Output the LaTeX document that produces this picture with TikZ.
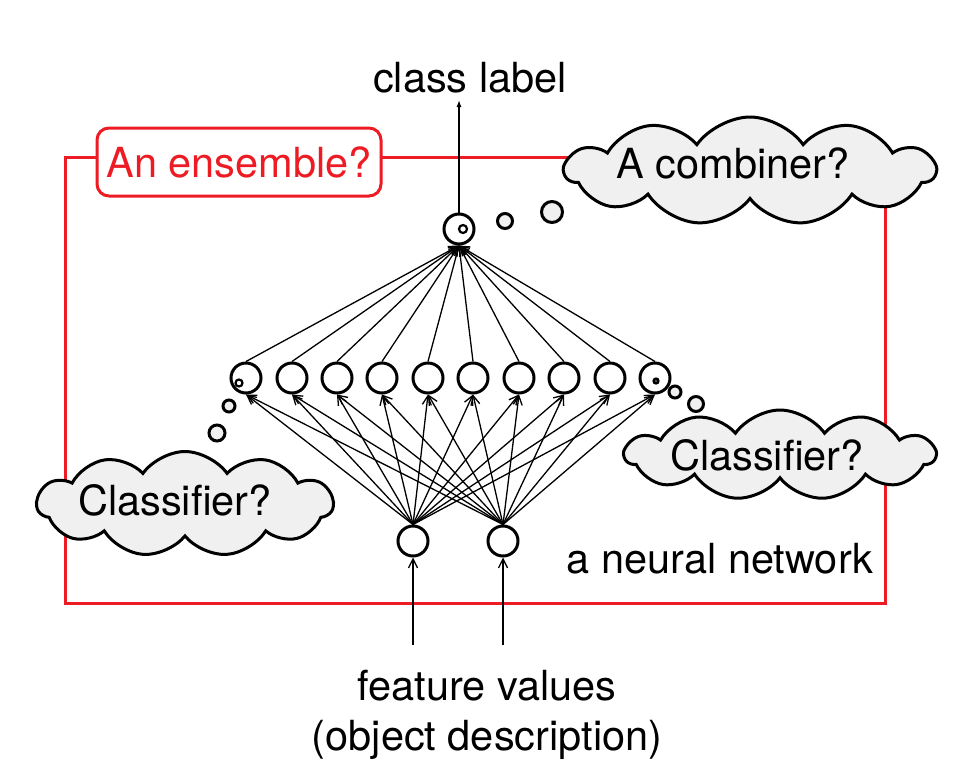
\documentclass[tikz,border=0pt]{standalone}
\usepackage{fontspec}
\setmainfont{TeX Gyre Heros}
\usetikzlibrary{shapes.symbols,arrows.meta}
\definecolor{ered}{RGB}{237,28,36}
\definecolor{cloudgray}{RGB}{240,240,240}
\begin{document}
\begin{tikzpicture}[x=1pt,y=-1pt,
  font=\fontsize{41.5}{49}\selectfont,
  neuron/.style={circle,draw,line width=3pt,minimum size=30pt,inner sep=0pt},
  inring/.style={circle,draw,line width=2.2pt,inner sep=0pt,minimum size=#1},
  bubble/.style={circle,draw,line width=3pt,fill=cloudgray,inner sep=0pt,minimum size=#1},
  conn/.style={line width=1.3pt,-{Straight Barb[length=9pt,width=9pt,line width=1.3pt]}},
  thought/.style={cloud,cloud puffs=11,cloud puff arc=110,draw,line width=3pt,fill=cloudgray,inner sep=0pt,cloud ignores aspect},
  redline/.style={draw=ered,line width=3pt},
  txt/.style={inner sep=0pt,text depth=0pt}
]
\useasboundingbox (0,0) rectangle (980,777);
% red frame
\draw[redline] (65,157) rectangle (885,603);
\node[redline,rounded corners=12pt,fill=white,text=ered,minimum width=284pt,minimum height=68pt,inner sep=0pt] (ens) at (239,162) {An ensemble?};

% clouds
\node[thought,minimum width=370pt,minimum height=108pt] (c1) at (750,171) {};
\node[txt] (t1) at (733,163) {A combiner?};
\node[thought,minimum width=296pt,minimum height=105pt] (c2) at (185,504) {};
\node[txt] (t2) at (175,500) {Classifier?};
\node[thought,minimum width=310pt,minimum height=90pt] (c3) at (780,455) {};
\node[txt] (t3) at (767,455) {Classifier?};

% bubbles
\node[bubble=15pt] (b1) at (505,221) {};
\node[bubble=21pt] (b2) at (552,212) {};
\node[bubble=12pt] (b3) at (229,406) {};
\node[bubble=16pt] (b4) at (217,433) {};
\node[bubble=12pt] (b5) at (675,392) {};
\node[bubble=15pt] (b6) at (696,404) {};

% neurons
\node[neuron] (out) at (459,229) {};
\node[inring=8pt] (outr) at (463,229) {};
\foreach \i/\x in {1/246,2/292,3/337,4/382,5/428,6/473,7/519,8/564,9/610,10/655}{
  \node[neuron] (h\i) at (\x,378) {};
}
\node[inring=7pt] (h1r) at (239,383) {};
\node[inring=5pt,fill=black!70] (h10r) at (656,381) {};
\node[neuron] (in1) at (413,541) {};
\node[neuron] (in2) at (503,541) {};

% connections
\foreach \i in {1,...,10}{
  \draw[conn] (h\i.north) -- (out.south);
  \draw[conn] (in1.north) -- (h\i.south);
  \draw[conn] (in2.north) -- (h\i.south);
}
\coordinate (top) at (459,100);
\draw[line width=1.3pt,-{Latex[length=7pt,width=5pt]}] (out.north) -- (top);
\coordinate (f1) at (413,645);
\coordinate (f2) at (503,645);
\draw[conn] (f1) -- (in1.south);
\draw[conn] (f2) -- (in2.south);

% texts
\node[txt] (cl) at (470,77) {class label};
\node[txt,anchor=east] (nn) at (873,558) {a neural network};
\node[txt] (fv) at (487,685) {feature values};
\node[txt] (od) at (487,735) {(object description)};
\end{tikzpicture}
\end{document}
